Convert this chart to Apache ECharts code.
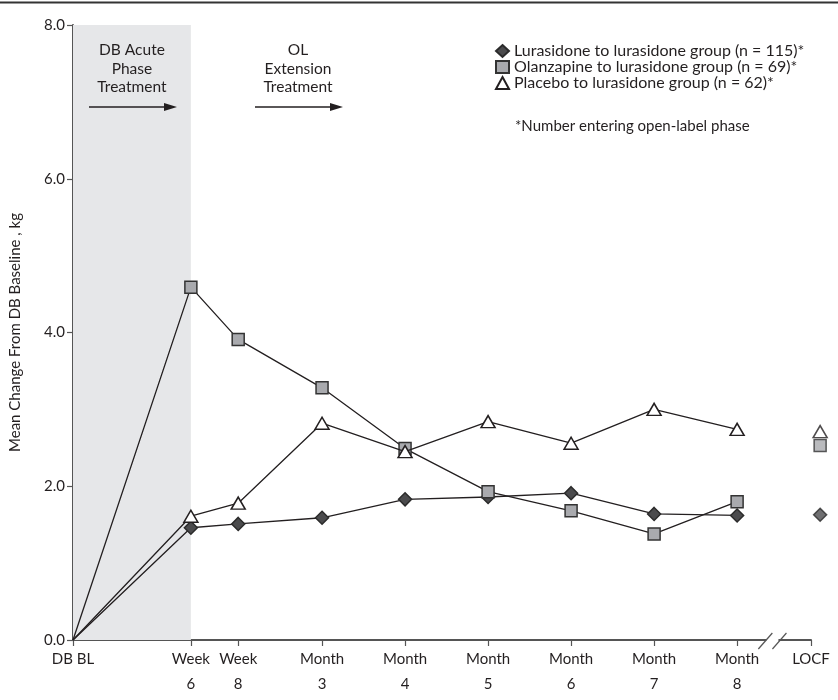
<!DOCTYPE html>
<html>
<head>
<meta charset="utf-8">
<script src="https://cdn.jsdelivr.net/npm/echarts@6/dist/echarts.min.js"></script>
<style>
  html, body { margin: 0; padding: 0; background: #fff; }
  #chart { width: 838px; height: 700px; }
</style>
</head>
<body>
<div id="chart"></div>
<script>
// Visit labels and their positions along the time axis (in months)
const visitLabels = ['DB BL', 'Week\n6', 'Week\n8', 'Month\n3', 'Month\n4', 'Month\n5', 'Month\n6', 'Month\n7', 'Month\n8', 'LOCF'];
const visitPositions = [0, 1.42, 1.99, 3, 4, 5, 6, 7, 8, 8.89];
const locfPosition = 9.0;

// Mean change from DB baseline (kg) at each visit, DB BL through Month 8
const lurasidoneValues = [0, 1.46, 1.51, 1.59, 1.83, 1.86, 1.91, 1.64, 1.62];
const olanzapineValues = [0, 4.59, 3.91, 3.28, 2.49, 1.93, 1.68, 1.38, 1.80];
const placeboValues    = [0, 1.61, 1.78, 2.82, 2.45, 2.84, 2.56, 3.00, 2.74];

// Last observation carried forward endpoint
const locfLurasidone = 1.63;
const locfOlanzapine = 2.53;
const locfPlacebo = 2.71;

const groupNames = [
  'Lurasidone to lurasidone group (n = 115)*',
  'Olanzapine to lurasidone group (n = 69)*',
  'Placebo to lurasidone group (n = 62)*'
];

const yTicks = [0, 2, 4, 6, 8];

const FONT = 'Lato';
const INK = '#231f20';
const AXIS = '#555555';

const styles = [
  { symbol: 'diamond',  size: [13, 13], fill: '#4b4b4d', border: '#2b2b2b' },
  { symbol: 'rect',     size: [12, 12], fill: '#a9aaae', border: '#333333' },
  { symbol: 'triangle', size: [14, 12], fill: '#ffffff', border: '#231f20' }
];

function toPoints(values) {
  return values.map((v, i) => i === 0
    ? { value: [visitPositions[i], v], symbol: 'none' }
    : [visitPositions[i], v]);
}

function labelFor(value) {
  for (let i = 0; i < visitPositions.length; i++) {
    if (Math.abs(visitPositions[i] - value) < 1e-6) return visitLabels[i];
  }
  return '';
}

const seriesValues = [lurasidoneValues, olanzapineValues, placeboValues];
const locfValues = [locfLurasidone, locfOlanzapine, locfPlacebo];

const series = [];

// Shaded double-blind acute phase
series.push({
  type: 'line',
  data: [],
  silent: true,
  z: -1,
  markArea: {
    silent: true,
    itemStyle: { color: '#e6e7e9' },
    label: { show: false },
    data: [[{ xAxis: visitPositions[0] }, { xAxis: visitPositions[1] }]]
  }
});

seriesValues.forEach((vals, k) => {
  const st = styles[k];
  series.push({
    name: groupNames[k],
    type: 'line',
    data: toPoints(vals),
    symbol: st.symbol,
    symbolSize: st.size,
    showAllSymbol: true,
    z: 3 + k,
    lineStyle: { color: '#231f20', width: 1.3 },
    itemStyle: { color: st.fill, borderColor: st.border, borderWidth: 1.5 },
    emphasis: { disabled: true },
    animation: false
  });
});

// LOCF endpoints, drawn unconnected past the axis break
locfValues.forEach((v, k) => {
  const st = styles[k];
  series.push({
    type: 'scatter',
    data: [[locfPosition, v]],
    symbol: st.symbol,
    symbolSize: st.size,
    clip: false,
    z: 6,
    itemStyle: { color: st.fill, borderColor: st.border, borderWidth: 1.5 },
    emphasis: { disabled: true },
    animation: false
  });
});

const chart = echarts.init(document.getElementById('chart'), null, { renderer: 'canvas' });

chart.setOption({
  animation: false,
  backgroundColor: '#ffffff',
  textStyle: { fontFamily: FONT, color: INK },
  grid: { left: 70, right: 27, top: 25, bottom: 60, containLabel: false },
  legend: {
    orient: 'vertical',
    left: 490,
    top: 38,
    itemWidth: 13,
    itemHeight: 12,
    itemGap: 0,
    selectedMode: false,
    textStyle: { fontFamily: FONT, fontSize: 16, lineHeight: 16, color: INK },
    data: [
      { name: groupNames[0], icon: 'diamond' },
      { name: groupNames[1], icon: 'rect' },
      { name: groupNames[2], icon: 'triangle' }
    ]
  },
  xAxis: {
    type: 'value',
    min: 0,
    max: visitPositions[visitPositions.length - 1],
    splitLine: { show: false },
    axisLine: { show: true, lineStyle: { color: AXIS, width: 2 } },
    axisTick: {
      show: true, length: 6, inside: false,
      customValues: visitPositions,
      lineStyle: { color: AXIS, width: 1.2 }
    },
    axisLabel: {
      customValues: visitPositions,
      formatter: labelFor,
      fontFamily: FONT, fontSize: 15, color: INK,
      lineHeight: 25, margin: 7,
      showMinLabel: true, showMaxLabel: true
    }
  },
  yAxis: {
    type: 'value',
    min: 0,
    max: 8,
    interval: 2,
    name: 'Mean Change From DB Baseline , kg',
    nameLocation: 'middle',
    nameGap: 50,
    nameRotate: 90,
    nameTextStyle: { fontFamily: FONT, fontSize: 15, color: INK },
    splitLine: { show: false },
    axisLine: { show: true, onZero: false, lineStyle: { color: AXIS, width: 2 } },
    axisTick: { show: true, length: 6, inside: false, lineStyle: { color: AXIS, width: 1.2 } },
    axisLabel: {
      customValues: yTicks,
      formatter: v => v.toFixed(1),
      fontFamily: FONT, fontSize: 15, color: INK, margin: 8
    }
  },
  series: series
});

// Annotations: phase headings, arrows, footnote, rule and axis break
function arrow(x1, x2, y) {
  return [
    { type: 'line', shape: { x1: x1, y1: y, x2: x2 - 10, y2: y }, style: { stroke: '#231f20', lineWidth: 1.4 }, silent: true, z: 10 },
    { type: 'polygon', shape: { points: [[x2 - 13, y - 4], [x2, y], [x2 - 13, y + 4]] }, style: { fill: '#231f20' }, silent: true, z: 10 }
  ];
}

const p0 = chart.convertToPixel({ xAxisIndex: 0 }, visitPositions[0]);
const p1 = chart.convertToPixel({ xAxisIndex: 0 }, visitPositions[1]);
const acuteCenter = (p0 + p1) / 2;
const breakA = chart.convertToPixel({ xAxisIndex: 0 }, 8.34);
const breakB = chart.convertToPixel({ xAxisIndex: 0 }, 8.51);
const axisY = chart.convertToPixel({ yAxisIndex: 0 }, 0);

const headingStyle = {
  fontFamily: FONT, fontSize: 15.5, fill: INK, align: 'center',
  verticalAlign: 'top', lineHeight: 18.5
};

const graphics = [
  { type: 'line', shape: { x1: 0, y1: 2.5, x2: 838, y2: 2.5 }, style: { stroke: '#333', lineWidth: 2 }, silent: true },
  { type: 'text', x: acuteCenter, y: 41, style: Object.assign({ text: 'DB Acute\nPhase\nTreatment' }, headingStyle), silent: true, z: 10 },
  { type: 'text', x: 298, y: 41, style: Object.assign({ text: 'OL\nExtension\nTreatment' }, headingStyle), silent: true, z: 10 },
  ...arrow(89, 177, 107),
  ...arrow(255, 343, 107),
  { type: 'text', x: 515, y: 119, style: { text: '*Number entering open-label phase', fontFamily: FONT, fontSize: 15, fill: INK }, silent: true, z: 10 },
  // axis break
  { type: 'rect', shape: { x: breakA + 1, y: axisY - 3, width: breakB - breakA - 2, height: 6 }, style: { fill: '#fff' }, silent: true, z: 20 },
  { type: 'line', shape: { x1: breakA - 7, y1: axisY + 9, x2: breakA + 7, y2: axisY - 7 }, style: { stroke: AXIS, lineWidth: 1.2 }, silent: true, z: 21 },
  { type: 'line', shape: { x1: breakB - 7, y1: axisY + 9, x2: breakB + 7, y2: axisY - 7 }, style: { stroke: AXIS, lineWidth: 1.2 }, silent: true, z: 21 }
];

chart.setOption({ graphic: graphics });
</script>
</body>
</html>
